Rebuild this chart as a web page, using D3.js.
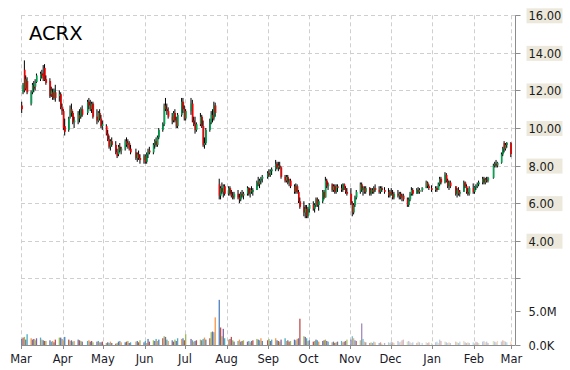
<!DOCTYPE html>
<html>
<head>
<meta charset="utf-8">
<title>ACRX</title>
<script src="https://cdn.jsdelivr.net/npm/d3@7/dist/d3.min.js"></script>
<style>
  body { margin: 0; background: #fff; }
  text { font-family: "DejaVu Sans", Verdana, sans-serif; }
</style>
</head>
<body>
<svg id="chart" width="570" height="370"></svg>
<script>
// daily rows: [open, high, low, close, volume in millions]
const mar14 = [[11.2,11.4,10.8,11.0,0.9],[11.9,12.4,11.8,12.3,1.1],[13.1,13.6,11.9,12.0,1.2],[12.1,12.8,12.0,12.6,0.8],[12.5,12.7,11.8,11.9,1.6],
  [11.3,12.0,11.2,11.9,1.0],[11.9,12.4,11.8,12.3,0.8],[12.2,12.5,11.9,12.1,0.9],[12.2,12.6,12.0,12.4,0.7],[12.45,12.9,12.4,12.8,1.0],
  [12.6,13.0,12.5,12.9,1.1],[12.9,13.1,12.65,12.8,0.8],[12.9,13.35,12.5,12.6,0.7],[13.2,13.4,12.5,12.55,0.6],[12.6,12.8,12.3,12.4,0.6],
  [12.5,12.65,11.6,11.7,0.7],[11.8,12.2,11.65,12.0,0.5],[11.9,12.1,11.5,11.6,0.6],[11.6,12.1,11.5,12.0,0.4],[11.9,12.3,11.4,11.6,0.8],[11.7,12.0,11.4,11.8,1.1]];
const apr14 = [[11.8,11.9,11.0,11.1,1.1],[11.1,11.3,10.7,10.9,0.9],[10.9,11.0,9.9,10.0,0.7],[10.1,10.5,9.6,9.8,1.2],
  [9.9,10.6,9.8,10.5,0.8],[10.6,11.2,10.5,11.0,0.6],[11.0,11.3,10.6,10.8,0.7],[10.8,10.9,10.2,10.3,0.5],[10.3,10.6,10.0,10.4,0.6],
  [10.4,10.9,10.2,10.8,0.8],[10.7,11.0,10.3,10.5,0.7],[10.6,11.1,10.5,11.0,0.6],[11.0,11.2,10.6,10.7,0.5],
  [10.8,11.5,10.7,11.4,0.6],[11.4,11.6,11.0,11.2,0.7],[11.2,11.5,10.9,11.0,0.5],[11.0,11.4,10.8,11.3,0.6],[11.3,11.4,10.5,10.6,0.4],
  [10.6,11.0,10.2,10.4,0.5],[10.4,10.9,10.3,10.8,0.6],[10.8,11.0,10.4,10.5,0.4]];
const may14 = [[10.5,10.7,10.0,10.1,0.4],[10.1,10.4,9.9,10.2,0.5],
  [10.1,10.2,9.6,9.7,0.3],[9.7,9.9,9.3,9.4,0.4],[9.4,9.6,8.9,9.0,0.3],[9.0,9.4,8.8,9.3,0.5],[9.3,9.5,9.0,9.1,0.3],
  [9.1,9.3,8.6,8.7,0.2],[8.7,8.9,8.4,8.5,0.3],[8.6,9.1,8.5,9.0,0.5],[9.0,9.2,8.7,8.8,0.6],[8.8,9.0,8.6,8.9,0.4],
  [8.9,9.4,8.8,9.3,0.4],[9.3,9.5,9.0,9.1,0.5],[9.1,9.4,8.9,9.2,0.6],[9.2,9.3,8.8,8.9,0.3],[8.9,9.1,8.6,8.7,0.4],
  [8.7,8.9,8.3,8.4,0.5],[8.4,8.7,8.2,8.6,0.6],[8.6,8.8,8.3,8.4,0.4],[8.4,8.6,8.1,8.3,0.7]];
const jun14 = [[8.3,8.6,8.1,8.5,0.4],[8.5,8.6,8.1,8.2,0.6],[8.2,8.7,8.1,8.6,0.3],[8.6,8.9,8.4,8.8,0.9],[8.8,9.0,8.6,8.7,0.5],
  [8.7,9.2,8.6,9.1,0.7],[9.1,9.4,8.9,9.3,0.6],[9.3,9.5,9.0,9.1,0.9],[9.1,9.6,9.0,9.5,0.6],[9.5,10.0,9.4,9.9,0.8],
  [9.9,10.3,9.8,10.2,1.0],[10.2,11.3,10.1,11.2,1.3],[11.2,11.6,10.9,11.0,1.2],[11.0,11.3,10.7,10.9,0.8],[10.9,11.1,10.5,10.6,0.6],
  [10.6,10.8,10.2,10.4,0.7],[10.4,10.9,10.3,10.8,0.5],[10.8,11.0,10.3,10.4,0.8],[10.4,10.6,10.0,10.1,0.6],[10.1,10.8,10.0,10.7,1.0],
  [10.7,11.6,10.6,11.4,0.9]];
const jul14 = [[11.4,11.6,10.8,11.0,1.0],[11.0,11.2,10.4,10.5,0.7],[10.5,11.0,10.4,10.9,1.6],
  [10.9,11.6,10.7,11.3,0.9],[11.3,11.5,10.3,10.4,0.7],[10.4,10.6,10.1,10.2,0.5],[10.2,10.6,9.7,9.9,0.6],[9.9,10.3,9.8,10.2,0.7],
  [10.2,10.8,10.1,10.6,0.8],[10.6,10.7,10.0,10.1,0.7],[10.1,10.4,9.0,9.1,0.9],[9.1,9.5,8.9,9.2,1.1],[9.2,10.0,9.1,9.9,0.8],
  [9.9,10.5,9.8,10.3,1.0],[10.3,10.9,10.2,10.7,1.9],[10.7,11.0,10.3,10.5,2.0],[10.5,11.4,10.4,11.2,1.9],[11.2,11.35,10.6,10.8,4.1],
  [7.0,7.3,6.2,6.4,6.7],[6.4,6.9,6.2,6.8,2.6],[6.8,7.1,6.5,6.6,1.3],[6.6,7.0,6.3,6.9,2.4]];
const aug14 = [[6.9,7.0,6.4,6.5,1.0],
  [6.5,6.9,6.4,6.8,0.8],[6.8,6.9,6.4,6.5,0.9],[6.5,6.7,6.3,6.4,1.2],[6.4,6.6,6.2,6.3,0.7],[6.3,6.6,6.2,6.5,0.5],
  [6.5,6.7,6.2,6.3,0.6],[6.3,6.5,6.0,6.2,0.8],[6.2,6.6,6.1,6.5,0.5],[6.5,6.7,6.3,6.4,0.6],[6.4,6.6,6.2,6.5,0.7],
  [6.5,6.9,6.4,6.8,0.5],[6.8,6.85,6.4,6.5,0.6],[6.5,6.8,6.3,6.7,0.4],[6.7,6.9,6.5,6.6,0.6],[6.6,6.8,6.4,6.7,0.7],
  [6.7,7.2,6.7,7.1,0.9],[7.1,7.4,6.9,7.0,0.8],[7.0,7.3,6.8,7.2,0.7],[7.2,7.4,7.0,7.3,1.0],[7.3,7.5,7.1,7.4,0.6]];
const sep14 = [[7.4,7.7,7.3,7.6,0.7],[7.6,7.8,7.4,7.5,0.9],[7.5,7.8,7.4,7.7,0.6],[7.7,7.9,7.5,7.8,0.8],
  [7.8,8.3,7.7,8.1,1.0],[8.1,8.2,7.8,7.9,0.7],[7.9,8.2,7.7,8.0,0.6],[8.0,8.2,7.8,7.9,0.5],[7.9,7.95,7.3,7.4,0.8],
  [7.4,7.5,7.1,7.2,1.0],[7.2,7.5,7.1,7.4,0.6],[7.4,7.5,7.0,7.1,0.7],[7.1,7.3,6.9,7.2,0.5],[7.2,7.3,6.8,6.9,0.6],
  [6.9,7.0,6.5,6.6,0.8],[6.6,7.05,6.5,6.9,0.7],[6.9,7.0,6.5,6.6,0.9],[6.6,6.7,6.0,6.1,1.0],[6.1,6.3,5.7,5.8,3.9],
  [5.8,6.1,5.3,5.5,1.3],[5.5,5.9,5.2,5.7,1.2]];
const oct14 = [[5.7,5.9,5.2,5.3,1.0],[5.3,5.8,5.2,5.7,0.6],[5.7,6.0,5.5,5.9,0.7],
  [5.9,6.1,5.6,5.7,0.5],[5.7,6.0,5.5,5.9,0.6],[5.9,6.3,5.8,6.2,0.8],[6.2,6.3,5.8,5.9,0.7],[5.9,6.2,5.6,6.1,0.5],
  [6.1,6.7,6.0,6.6,0.6],[6.6,6.7,6.2,6.3,0.7],[6.3,7.4,6.3,7.2,0.8],[7.2,7.3,6.8,6.9,0.6],[6.9,7.1,6.7,7.0,0.5],
  [7.0,7.05,6.6,6.7,0.4],[6.7,7.0,6.6,6.9,0.5],[6.9,7.0,6.5,6.6,0.3],[6.6,7.0,6.5,6.9,0.4],[6.9,7.0,6.6,6.8,0.5],
  [6.8,7.0,6.6,6.7,0.6],[6.7,7.05,6.6,7.0,0.4],[7.0,7.05,6.7,6.8,0.5],[6.8,6.9,6.5,6.6,0.6],[6.6,6.8,6.4,6.5,0.8]];
const nov14 = [[6.5,6.8,5.9,6.0,0.8],[6.0,6.1,5.3,5.5,1.3],[5.5,6.0,5.4,5.9,1.0],[5.9,6.4,5.8,6.3,0.7],[6.3,6.7,6.2,6.6,0.6],
  [6.6,7.1,6.5,7.0,0.7],[7.0,7.1,6.6,6.7,3.2],[6.7,6.9,6.4,6.8,0.9],[6.8,6.9,6.5,6.6,0.5],[6.6,6.9,6.5,6.8,0.4],
  [6.8,6.85,6.4,6.5,0.3],[6.5,6.8,6.4,6.7,0.4],[6.7,6.8,6.5,6.6,0.3],[6.6,6.9,6.5,6.8,0.5],[6.8,7.0,6.6,6.7,0.4],
  [6.7,6.9,6.5,6.6,0.3],[6.6,6.9,6.5,6.8,0.4],[6.8,6.9,6.6,6.7,0.2],[6.7,6.85,6.5,6.6,0.3]];
const dec14 = [[6.6,6.8,6.3,6.4,0.4],[6.4,6.7,6.3,6.6,0.3],[6.6,6.8,6.4,6.5,0.5],[6.5,6.7,6.2,6.3,0.4],[6.3,6.6,6.2,6.5,0.3],
  [6.5,6.7,6.3,6.4,0.6],[6.4,6.6,6.2,6.5,0.4],[6.5,6.6,6.2,6.3,0.5],[6.3,6.5,6.1,6.4,0.7],[6.4,6.5,6.1,6.2,0.8],
  [6.2,6.3,5.8,5.9,0.5],[5.9,6.3,5.8,6.2,0.6],[6.2,6.6,6.1,6.5,0.4],[6.5,6.85,6.4,6.7,0.3],[6.7,6.8,6.4,6.5,0.4],
  [6.5,6.8,6.5,6.7,0.3],[6.7,6.85,6.5,6.6,0.5],[6.6,6.8,6.5,6.7,0.4],[6.7,6.85,6.6,6.8,0.3],
  [6.8,7.2,6.8,7.1,0.4],[7.1,7.15,6.8,6.9,0.3],[6.9,7.0,6.7,6.8,0.4]];
const jan15 = [[6.8,6.95,6.6,6.7,0.3],
  [6.7,6.9,6.6,6.8,0.4],[6.8,6.9,6.6,6.7,0.5],[6.7,7.1,6.7,7.0,0.3],[7.0,7.4,6.9,7.3,0.8],[7.3,7.4,7.0,7.1,0.6],
  [7.1,7.65,7.05,7.5,0.5],[7.5,7.6,7.1,7.2,0.4],[7.2,7.3,6.8,6.9,0.3],[6.9,7.2,6.7,7.1,0.4],[7.1,7.2,6.8,6.9,0.3],
  [6.9,6.9,6.4,6.5,0.5],[6.5,6.8,6.3,6.7,0.4],[6.7,6.85,6.4,6.5,0.3],[6.5,6.7,6.35,6.6,0.5],
  [6.6,7.2,6.6,7.1,0.6],[7.1,7.15,6.8,6.9,0.4],[6.9,7.0,6.5,6.6,0.3],[6.6,6.8,6.4,6.5,0.4],[6.5,6.9,6.4,6.8,0.3]];
const feb15 = [[6.8,7.05,6.5,6.6,0.4],[6.6,6.9,6.5,6.85,0.3],[6.85,7.0,6.7,6.9,0.5],[6.9,7.1,6.8,7.0,0.4],[7.0,7.2,6.9,7.1,0.3],
  [7.1,7.4,7.0,7.3,0.5],[7.3,7.4,7.0,7.1,0.6],[7.1,7.35,7.0,7.25,0.4],[7.25,7.4,7.1,7.2,0.5],[7.2,7.4,7.1,7.35,0.3],
  [7.35,8.1,7.3,8.0,0.6],[8.0,8.2,7.9,8.1,0.5],[8.1,8.3,7.9,8.0,0.4],[8.0,8.2,7.9,8.15,0.6],
  [8.15,8.7,8.1,8.6,0.5],[8.6,9.0,8.5,8.9,0.7],[9.2,9.3,8.7,8.9,0.6],[8.9,9.2,8.8,9.1,0.5],[9.1,9.25,8.95,9.2,0.4]];
const mar15 = [[9.2,9.25,8.45,8.6,0.5]];

const holidays = ['2014-04-18','2014-05-26','2014-07-04','2014-09-01','2014-11-27',
  '2014-12-25','2015-01-01','2015-01-19','2015-02-16'];
const priceTicks = [2, 4, 6, 8, 10, 12, 14, 16];
const volTicks = [0, 5];
const volLabels = ['0.0K', '5.0M'];
const monthNames = ['Mar','Apr','May','Jun','Jul','Aug','Sep','Oct','Nov','Dec','Jan','Feb','Mar'];
const volColors = ['#4f81bd','#c0504d','#9bbb59','#8064a2','#4bacc6','#f79646'];

// trading days
const days = [];
for (let d = new Date(2014, 2, 3); d <= new Date(2015, 2, 2); d = d3.timeDay.offset(d, 1)) {
  const wd = d.getDay();
  if (wd === 0 || wd === 6) continue;
  if (holidays.includes(d3.timeFormat('%Y-%m-%d')(d))) continue;
  days.push(new Date(d));
}
const rows = [].concat(mar14, apr14, may14, jun14, jul14, aug14, sep14, oct14, nov14, dec14, jan15, feb15, mar15);
const data = rows.slice(0, days.length).map((r, i) => ({
  date: days[i], open: r[0], high: r[1], low: r[2], close: r[3], vol: r[4]
}));

const svg = d3.select('#chart');
const plotLeft = 21, plotRight = 515.5, plotTop = 15.3, plotBottom = 345;

const x = d3.scaleTime().domain([new Date(2014, 2, 1), new Date(2015, 2, 4)]).range([plotLeft, plotRight]);
const y = d3.scaleLinear().domain([4, 16]).range([240.7, plotTop]);
const yv = d3.scaleLinear().domain([0, 5]).range([plotBottom, 311.3]);
const months = d3.timeMonth.range(new Date(2014, 2, 1), new Date(2015, 2, 2));

const grid = svg.append('g').attr('stroke', '#cfcfcf').attr('stroke-dasharray', '4,3').attr('stroke-width', 1);
grid.selectAll('line.v').data(months).join('line')
  .attr('x1', d => Math.round(x(d)) + 0.5).attr('x2', d => Math.round(x(d)) + 0.5)
  .attr('y1', plotTop).attr('y2', plotBottom);
grid.selectAll('line.h').data(priceTicks).join('line')
  .attr('x1', plotLeft).attr('x2', plotRight)
  .attr('y1', d => Math.round(y(d)) + 0.5).attr('y2', d => Math.round(y(d)) + 0.5);

// volume bars
const fade = d3.scaleTime().domain([new Date(2014, 9, 20), new Date(2014, 11, 10)]).range([1, 0.4]).clamp(true);
svg.append('g').selectAll('rect').data(data).join('rect')
  .attr('x', d => x(d.date) - 2.6)
  .attr('width', 1.3)
  .attr('y', d => yv(d.vol))
  .attr('height', d => plotBottom - yv(d.vol))
  .attr('fill', (d, i) => volColors[i % volColors.length])
  .attr('opacity', d => fade(d.date));

// candles: thin black high-low wick, coloured body on top
const candles = svg.append('g').selectAll('g').data(data).join('g');
candles.append('rect')
  .attr('x', d => x(d.date) - 2.5)
  .attr('width', 1)
  .attr('y', d => y(d.high))
  .attr('height', d => Math.max(1, y(d.low) - y(d.high)))
  .attr('fill', '#000');
candles.append('rect')
  .attr('x', d => x(d.date) - 2.4)
  .attr('width', 1.6)
  .attr('y', d => y(Math.max(d.open, d.close)))
  .attr('height', d => Math.max(1, Math.abs(y(d.open) - y(d.close))))
  .attr('fill', d => d.close >= d.open ? '#00a651' : '#f00000');

// axes
const axis = svg.append('g').attr('stroke', '#8c8c8c').attr('stroke-width', 1);
axis.append('line').attr('x1', plotRight).attr('x2', plotRight).attr('y1', plotTop).attr('y2', plotBottom);
axis.append('line').attr('x1', plotLeft).attr('x2', plotRight).attr('y1', plotBottom + 0.5).attr('y2', plotBottom + 0.5);
axis.selectAll('line.pt').data(priceTicks).join('line')
  .attr('x1', plotRight).attr('x2', plotRight + 5)
  .attr('y1', d => Math.round(y(d)) + 0.5).attr('y2', d => Math.round(y(d)) + 0.5);
axis.selectAll('line.vt').data(volTicks).join('line')
  .attr('x1', plotRight).attr('x2', plotRight + 5)
  .attr('y1', d => Math.round(yv(d)) + 0.5).attr('y2', d => Math.round(yv(d)) + 0.5);
axis.selectAll('line.mt').data(months).join('line')
  .attr('x1', d => Math.round(x(d)) + 0.5).attr('x2', d => Math.round(x(d)) + 0.5)
  .attr('y1', plotBottom).attr('y2', plotBottom + 4);

const labeled = priceTicks.filter(d => d >= 4);
const pl = svg.append('g').selectAll('g').data(labeled).join('g')
  .attr('transform', d => `translate(526.5,${y(d)})`);
pl.append('rect').attr('x', 0).attr('y', -7).attr('width', 36).attr('height', 15).attr('fill', '#ece9dc');
pl.append('text').attr('x', 2).attr('y', 5).attr('font-size', 11.5).attr('fill', '#1a1a1a')
  .text(d => d3.format('.2f')(d));

svg.append('g').selectAll('text').data(volTicks).join('text')
  .attr('x', 528.5).attr('y', d => yv(d) + 5)
  .attr('font-size', 11.5).attr('fill', '#1a1a1a')
  .text((d, i) => volLabels[i]);

svg.append('g').selectAll('text').data(months).join('text')
  .attr('x', d => x(d)).attr('y', 362.5)
  .attr('text-anchor', 'middle').attr('font-size', 11.5).attr('fill', '#1a1a2a')
  .text((d, i) => monthNames[i]);

svg.append('text').attr('x', 29).attr('y', 39.5).attr('font-size', 19.5).attr('fill', '#000').text('ACRX');
</script>
</body>
</html>
